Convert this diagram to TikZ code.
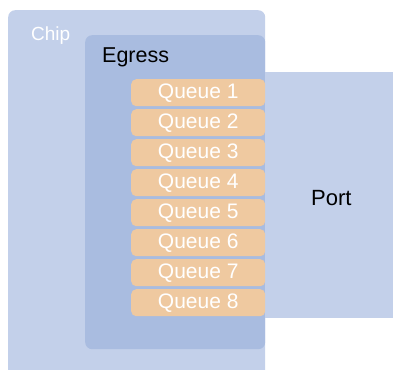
\documentclass[tikz,border=0pt]{standalone}
\usepackage{fontspec}
\setmainfont{Liberation Sans}
\usetikzlibrary{positioning}

\definecolor{chipblue}{HTML}{C3D0EA}
\definecolor{egressblue}{HTML}{A9BCE0}
\definecolor{queuetan}{HTML}{EFC9A0}

\begin{document}
\begin{tikzpicture}[x=1pt, y=-1pt,
	box/.style = {
		shape=rectangle, rounded corners=7pt,
		inner sep=0pt, anchor=north west},
	queue/.style = {
		shape=rectangle, rounded corners=5pt,
		fill=queuetan, text=white, inner sep=0pt,
		minimum width=134pt, minimum height=27pt,
		font=\fontsize{21}{23}\selectfont}]
	\useasboundingbox (0,0) rectangle (393,369);

	% outer blocks
	\node[box, fill=chipblue, minimum width=257pt, minimum height=372pt] (chip) at (8,10) {};
	\node[box, fill=egressblue, minimum width=180pt, minimum height=314pt] (egress) at (85,35) {};
	\node[box, fill=chipblue, rounded corners=0pt, minimum width=130pt, minimum height=246pt] (port) at (265,72) {};

	% labels
	\node[anchor=base west, inner sep=0pt, text=white, font=\fontsize{19}{21}\selectfont]
		(chiplbl) at ([shift={(23,31)}]chip.north west) {Chip};
	\node[anchor=base west, inner sep=0pt, font=\fontsize{21.5}{23}\selectfont]
		(egresslbl) at ([shift={(17,28)}]egress.north west) {Egress};
	\node[anchor=base west, inner sep=0pt, font=\fontsize{22}{24}\selectfont]
		(portlbl) at ([shift={(46,133)}]port.north west) {Port};

	% queues
	\foreach \i in {1,...,8}
		\node[queue, anchor=north west] (q\i) at (131, {79+30*(\i-1)}) {Queue \i};
\end{tikzpicture}
\end{document}
